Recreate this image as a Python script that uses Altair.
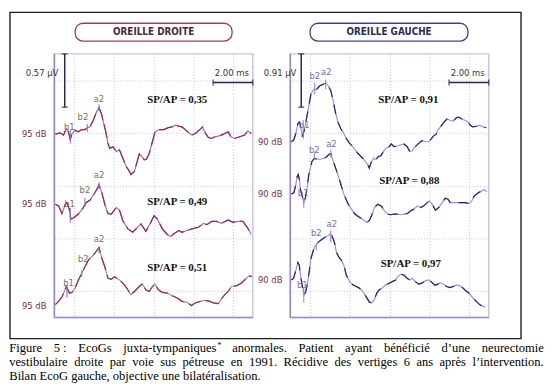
import altair as alt
import pandas as pd

# ---------------- waveform data: time (ms) / amplitude (arbitrary units) ----
L1_t = [0.05,0.30,0.46,0.60,0.71,0.80,0.88,1.04,1.21,1.38,1.54,1.66,1.79,1.96,2.12,2.25,2.37,2.49,2.59,2.70,
        2.79,2.95,3.12,3.28,3.45,3.62,3.78,3.86,4.03,4.15,4.28,4.41,4.53,4.64,4.78,4.94,5.07,5.27,5.52,5.74,
        5.94,6.10,6.30,6.43,6.60,6.77,6.93,7.10,7.30,7.46,7.60,7.76,7.93,8.09,8.26,8.42,8.59,8.76,8.89,9.09,
        9.34,9.59,9.75,9.92]
L1_v = [185.7,187,184.7,191.3,188,180.3,185.7,189.7,188,190.3,190.3,192.3,193,199.7,208,212.3,206.3,196.3,188,176.3,
        171.3,173,168,169.7,161.3,153,148,144.7,148,156.3,165.7,163,159.7,160.3,166.3,178,188,190.3,190.3,192.3,
        193,194.7,193.7,193,190.3,187,184.7,186.3,189.7,193,187,182.3,181.3,183,183.7,184.7,186.3,188,183,181.3,
        183,184.7,189,186.3]
L2_t = [0.05,0.21,0.38,0.55,0.63,0.75,0.83,0.96,1.21,1.46,1.59,1.79,2.04,2.25,2.37,2.54,2.70,2.87,3.12,3.28,
        3.45,3.70,3.95,4.19,4.36,4.61,4.86,5.02,5.19,5.44,5.69,5.86,6.02,6.27,6.43,6.68,6.93,7.26,7.51,7.68,
        7.93,8.17,8.42,8.76,9.00,9.25,9.50,9.72,9.92]
L2_v = [114.7,113,105.3,114.7,116.3,109.7,99.7,100.7,104.7,111.3,116.3,118.7,126.3,134,128,114.7,105.3,104.7,111.3,108.7,
        98,89.7,86.3,91.3,94.7,87.3,96.3,103,99.7,89.7,84,82,84.7,88,86.3,88,89.7,91.3,95.3,94,
        97.3,97.3,95.3,98.7,96.3,97.3,97.3,91.3,84]
L3_t = [0.05,0.21,0.38,0.50,0.60,0.68,0.75,0.88,1.04,1.21,1.38,1.54,1.71,1.96,2.12,2.25,2.37,2.54,2.70,2.87,
        3.03,3.28,3.53,3.70,3.86,4.03,4.28,4.44,4.61,4.78,4.94,5.07,5.24,5.44,5.69,5.94,6.19,6.43,6.68,6.90,
        7.10,7.35,7.60,7.84,8.01,8.26,8.51,8.76,8.92,9.17,9.42,9.67,9.83,9.95]
L3_v = [13,16.3,20.7,26.3,31.3,28,24.7,25.3,29.7,38,44.7,51.3,58,63,67.3,70.7,61.3,51.3,39.7,38.7,
        41.3,38,33,28,23,26.3,31.3,34,28,26.3,31.3,34,28,25.3,24.7,22,19.7,16.3,15.3,12,
        14.7,16.3,17.3,16.3,14.7,14,21.3,26.3,31.3,32,34.7,39.7,42,41.3]

R1_t = [0.05,0.17,0.28,0.38,0.45,0.51,0.61,0.71,0.83,0.95,1.04,1.16,1.33,1.49,1.66,1.78,1.91,2.04,2.16,2.27,
        2.40,2.54,2.65,2.82,2.99,3.15,3.27,3.40,3.53,3.65,3.77,3.90,3.98,4.06,4.20,4.31,4.43,4.56,4.69,4.81,
        4.98,5.09,5.22,5.39,5.56,5.72,5.89,6.02,6.14,6.30,6.47,6.63,6.80,6.97,7.08,7.21,7.35,7.46,7.63,7.80,
        7.91,8.04,8.21,8.37,8.49,8.62,8.79,8.96,9.07,9.20,9.37,9.54,9.70,9.87]
R1_v = [178,179.7,186.3,196.3,198,194.7,183,190.3,203,216.3,226.3,230.7,231.3,234.7,236.3,238,234.7,229.7,219.7,208,
        198,191.3,188,181.3,176.3,173,169.7,166.3,163.7,161.3,158,154.7,151.3,156.3,161.3,159.7,163,163.7,168,171.3,
        173,175.7,173,173.7,174.7,175.7,173,168,169,173,176.3,179,178,178,180.3,183.7,185.7,190.3,194.7,199,
        201.3,199.7,199,202.3,203,201.3,199.7,198,194.7,193,193.7,194.7,193,192.3]
R2_t = [0.05,0.18,0.28,0.35,0.40,0.46,0.51,0.60,0.68,0.76,0.85,0.93,1.01,1.09,1.21,1.34,1.49,1.64,1.79,1.94,
        2.04,2.17,2.34,2.50,2.70,2.92,3.08,3.25,3.50,3.75,3.87,4.00,4.13,4.24,4.41,4.58,4.74,4.91,5.07,5.24,
        5.41,5.57,5.74,5.91,6.07,6.23,6.40,6.57,6.73,6.90,7.01,7.15,7.31,7.48,7.65,7.81,7.95,8.06,8.22,8.47,
        8.81,9.00,9.14,9.27,9.47,9.64,9.77,9.89]
R2_v = [125,126.3,134.7,143,144.7,139.7,129.7,123,116.3,121.3,131.3,144.7,151.3,158,161,160.5,160,161,162,165,
        166,158,148,138,124.7,114.7,109.7,104.7,101.3,98,96.3,98.7,104.7,111.3,114.7,113,108,104.7,104,104.7,
        104.7,104,104.7,105.3,108,109.7,113,111.3,113,116.3,118,114.7,108.7,111.3,116.3,120.7,119.7,116.3,116.3,116.3,
        116.3,115.3,118,123,126.3,128,129.7,127.3]
R3_t = [0.05,0.17,0.28,0.38,0.45,0.50,0.58,0.66,0.71,0.78,0.88,0.95,1.04,1.16,1.28,1.41,1.58,1.74,1.91,2.04,
        2.16,2.24,2.32,2.44,2.57,2.70,2.82,2.99,3.15,3.32,3.48,3.65,3.81,3.98,4.10,4.23,4.36,4.48,4.64,4.81,
        4.98,5.14,5.31,5.42,5.56,5.72,5.89,6.02,6.14,6.30,6.47,6.63,6.80,6.97,7.13,7.25,7.38,7.55,7.71,7.88,
        8.04,8.21,8.38,8.54,8.71,8.84,9.00,9.20,9.37,9.54,9.70,9.83]
R3_v = [38,39.7,48,55.7,53,44.7,34.7,26.3,23,26.3,36.3,46.3,59.7,68,73,76.3,79,81.3,83,84.7,
        79.7,74.7,66.3,61.3,58,53,43,36.3,33,31.3,29.7,26.3,21.3,15.7,14.7,18,24.7,28,29.7,33,
        34.7,36.3,38,41.3,43.7,43,39.7,38,39.7,36.3,33.7,34.7,37,38,35.7,33,33,35.3,33.7,31.3,
        30.3,31.3,33,32,29.7,27,24.7,19.7,16.3,13,11.3,10.3]

# ---------------- peak markers (b1, b2, a2 for each of the three traces) ----------------
PEAK_NAMES = ["b1", "b2", "a2"] * 3
L_LAB_T = [0.75, 1.44, 2.24, 0.76, 1.54, 2.25, 0.71, 1.46, 2.25]
L_LAB_V = [193, 203, 221, 114.7, 129, 144, 35, 59, 79]
L_TICK_T = [0.80, 1.66, 2.25, 0.80, 1.54, 2.25, 0.63, 1.38, 2.25]
L_TICK_V0 = [176, 188, 209, 96, 113, 130, 20, 41, 65]
L_TICK_V1 = [190, 196, 216, 111, 121, 137, 33, 48, 72]
R_LAB_T = [0.70, 1.23, 1.81, 0.65, 1.21, 2.07, 0.60, 1.31, 2.09]
R_LAB_V = [195, 245, 249, 126, 170, 176, 33, 85, 95]
R_TICK_T = [0.65, 1.23, 1.78, 0.68, 1.21, 2.04, 0.68, 1.31, 2.04]
R_TICK_V0 = [181, 226, 231, 111, 160, 162, 15, 68, 76]
R_TICK_V1 = [200, 238, 241, 121, 168, 170, 30, 75, 88]

# ---------------- SP/AP ratios and stimulus levels ----------------
L_SPAP = ["0,35", "0,49", "0,51"]
L_SPAP_T = [6.19, 6.19, 6.19]
L_SPAP_V = [220, 117, 49.7]
R_SPAP = ["0,91", "0,88", "0,97"]
R_SPAP_T = [5.95, 6.0, 6.07]
R_SPAP_V = [220, 138, 54]
L_DB = "95 dB"
L_DB_V = [186, 115, 12]
R_DB = "90 dB"
R_DB_V = [178, 125, 38]
L_UV = "0.57 µV"
R_UV = "0.91 µV"
MS_LABEL = "2.00 ms"

CAPTION_1 = ["Figure", "5 :", "EcoGs", "juxta-tympaniques", "anormales.", "Patient", "ayant",
             "bénéficié", "d’une", "neurectomie"]
CAPTION_2 = ["vestibulaire", "droite", "par", "voie", "sus", "pétreuse", "en", "1991.", "Récidive",
             "des", "vertiges", "6", "ans", "après", "l’intervention."]
CAPTION_3 = "Bilan EcoG gauche, objective une bilatéralisation."

# ---------------- styling ----------------
NARROW = "Liberation Sans Narrow, Arial Narrow, DejaVu Sans Condensed, sans-serif"
SERIF = "Liberation Serif, Times New Roman, serif"
SMALL = 9.5
W, H = 201, 267
XS = alt.Scale(domain=[0, 10], nice=False, zero=False)
YS = alt.Scale(domain=[0, 267], nice=False, zero=False)
GRID_X = list(range(1, 10))
GRID_Y = [round(26.7 * k, 1) for k in range(1, 10)]
dummy = pd.DataFrame({"k": [0]})
BAR_COL = "#2c2650"
DB_COL = "#7e2a48"


def X(f="t"):
    return alt.X(f"{f}:Q", title=None)


def Y(f="v"):
    return alt.Y(f"{f}:Q", title=None)


def panel(traces, base_cols, over_col, dash, lab_t, lab_v, tick_t, tick_v0, tick_v1, lab_col, tick_col,
          spap_t, spap_v, spap_vals, db_v, db_txt, uv_txt, uv_t, bar_t, title, bx0, bx1, box_col, title_col):
    tr = pd.concat([pd.DataFrame({"trace": n, "t": t, "v": v}) for n, t, v in traces], ignore_index=True)
    names = [n for n, _, _ in traces]
    layers = [alt.Chart(tr).mark_line(strokeWidth=1.2).encode(
        x=alt.X("t:Q", scale=XS, axis=alt.Axis(values=GRID_X), title=None),
        y=alt.Y("v:Q", scale=YS, axis=alt.Axis(values=GRID_Y), title=None),
        color=alt.Color("trace:N", scale=alt.Scale(domain=names, range=base_cols), legend=None),
    )]
    layers.append(alt.Chart(dummy).mark_rule(color="#9585cc", strokeWidth=1.5).encode(
        x=alt.value(0), y=alt.value(0), y2=alt.value(H)))
    layers.append(alt.Chart(dummy).mark_rule(color="#9a8cd0", strokeWidth=1.5).encode(
        x=alt.value(0), x2=alt.value(W), y=alt.value(H)))
    layers.append(alt.Chart(tr).mark_line(strokeWidth=1.2, color=over_col, strokeDash=dash).encode(
        x=X(), y=Y(), detail="trace:N"))
    ticks = pd.DataFrame({"t": tick_t, "v": tick_v0, "v2": tick_v1})
    layers.append(alt.Chart(ticks).mark_rule(color=tick_col, strokeWidth=1).encode(x=X(), y=Y(), y2="v2:Q"))
    labs = pd.DataFrame({"t": lab_t, "v": lab_v, "lab": PEAK_NAMES})
    layers.append(alt.Chart(labs).mark_text(font=NARROW, fontSize=SMALL, color=lab_col).encode(
        x=X(), y=Y(), text="lab:N"))
    sp = pd.DataFrame({"t": spap_t, "v": spap_v, "txt": ["SP/AP =  " + s for s in spap_vals]})
    layers.append(alt.Chart(sp).mark_text(font=SERIF, fontSize=11, fontWeight="bold", color="#111111").encode(
        x=X(), y=Y(), text="txt:N"))
    db = pd.DataFrame({"v": db_v, "txt": [db_txt] * len(db_v)})
    layers.append(alt.Chart(db).mark_text(font=NARROW, fontSize=SMALL, color=DB_COL, align="right").encode(
        x=alt.value(-8), y=Y(), text="txt:N"))
    # amplitude scale bar
    vb = pd.DataFrame({"t": [bar_t], "v": [213], "v2": [267]})
    layers.append(alt.Chart(vb).mark_rule(color=BAR_COL, strokeWidth=1.5).encode(x=X(), y=Y(), y2="v2:Q"))
    vc = pd.DataFrame({"t": [bar_t, bar_t], "v": [213, 267]})
    layers.append(alt.Chart(vc).mark_tick(orient="horizontal", size=6, thickness=1.5, color=BAR_COL).encode(
        x=X(), y=Y()))
    # time scale bar (2 ms)
    hb = pd.DataFrame({"t": [8.0], "t2": [10.0], "v": [238]})
    layers.append(alt.Chart(hb).mark_rule(color=BAR_COL, strokeWidth=1.5).encode(x=X(), x2="t2:Q", y=Y()))
    hc = pd.DataFrame({"t": [8.0, 10.0], "v": [238, 238]})
    layers.append(alt.Chart(hc).mark_tick(orient="vertical", size=6, thickness=1.5, color=BAR_COL).encode(
        x=X(), y=Y()))
    su = pd.DataFrame({"t": [uv_t], "v": [248], "txt": [uv_txt]})
    layers.append(alt.Chart(su).mark_text(font=NARROW, fontSize=SMALL, color="#333333",
                                          align="right").encode(x=X(), y=Y(), text="txt:N"))
    sm = pd.DataFrame({"t": [8.94], "v": [247.5], "txt": [MS_LABEL]})
    layers.append(alt.Chart(sm).mark_text(font=NARROW, fontSize=SMALL, color="#333333").encode(
        x=X(), y=Y(), text="txt:N"))
    # title box
    layers.append(alt.Chart(dummy).mark_rect(fill="white", stroke=box_col, strokeWidth=1.3, cornerRadius=8).encode(
        x=alt.value(bx0), x2=alt.value(bx1), y=alt.value(-31), y2=alt.value(-13)))
    layers.append(alt.Chart(dummy).mark_text(font=NARROW, fontSize=10, fontWeight="bold", color=title_col).encode(
        x=alt.value((bx0 + bx1) / 2), y=alt.value(-22), text=alt.value(title)))
    return layers


left_layers = panel(
    [("L1", L1_t, L1_v), ("L2", L2_t, L2_v), ("L3", L3_t, L3_v)],
    ["#8f6fd0", "#8f6fd0", "#86a486"], "#a02848", [14, 5],
    L_LAB_T, L_LAB_V, L_TICK_T, L_TICK_V0, L_TICK_V1, "#6c7862", "#8a6ac8",
    L_SPAP_T, L_SPAP_V, L_SPAP, L_DB_V, L_DB, L_UV, 0.2, 0.52,
    "OREILLE DROITE", 21, 180, "#9b4055", "#4a2a38")
right_layers = panel(
    [("R1", R1_t, R1_v), ("R2", R2_t, R2_v), ("R3", R3_t, R3_v)],
    ["#a08ee0", "#a08ee0", "#a08ee0"], "#2a2560", [10, 8],
    R_LAB_T, R_LAB_V, R_TICK_T, R_TICK_V0, R_TICK_V1, "#8468b8", "#9a7ad0",
    R_SPAP_T, R_SPAP_V, R_SPAP, R_DB_V, R_DB, R_UV, 0.3, 0.55,
    "OREILLE GAUCHE", 20, 180, "#4c3c90", "#2c2c58")

# ---------------- outer frame and caption (positioned relative to left panel) ----------------
OX, OY = 54, 51
left_layers.append(alt.Chart(dummy).mark_rect(fill="white", fillOpacity=0, stroke="#1e1e1e", strokeWidth=1.4).encode(
    x=alt.value(9 - OX), x2=alt.value(526.7 - OX), y=alt.value(9 - OY), y2=alt.value(339.5 - OY)))

TW = {' ': 250, '*': 500, ',': 250, '-': 333, '.': 250, ':': 278, '’': 333, '0': 500, '1': 500, '5': 500,
      '6': 500, '9': 500, 'B': 667, 'E': 611, 'F': 556, 'G': 722, 'P': 556, 'R': 667, 'a': 444, 'b': 500,
      'c': 444, 'd': 500, 'e': 444, 'f': 333, 'g': 500, 'h': 500, 'i': 278, 'j': 278, 'l': 278, 'm': 778,
      'n': 500, 'o': 500, 'p': 500, 'q': 500, 'r': 333, 's': 389, 't': 278, 'u': 500, 'v': 500, 'x': 500,
      'y': 500, 'é': 444, 'è': 444}
CS = 12.7
CL, CR = 8.3, 549.7


def tw(s):
    return sum(TW.get(c, 500) for c in s) * CS / 1000.0


def add_word(txt, px, py, align="left", size=CS):
    left_layers.append(alt.Chart(dummy).mark_text(font=SERIF, fontSize=size, color="#000000", align=align,
                                                  baseline="alphabetic").encode(
        x=alt.value(px - OX), y=alt.value(py - OY), text=alt.value(txt)))


def justified(words, py, extra):
    widths = [tw(w) + extra.get(i, 0) for i, w in enumerate(words)]
    gap = (CR - CL - sum(widths)) / (len(words) - 1)
    x = CL
    for i, w in enumerate(words):
        if i == len(words) - 1:
            add_word(w, CR, py, align="right")
        else:
            add_word(w, x, py)
            if i in extra:
                add_word("*", x + tw(w) + 0.8, py - 4, size=8)
        x += widths[i] + gap


justified(CAPTION_1, 353, {3: 4})
justified(CAPTION_2, 367, {})
add_word(CAPTION_3, CL, 381)

left = alt.layer(*left_layers).properties(width=W, height=H)
right = alt.layer(*right_layers).properties(width=W, height=H)

chart = alt.hconcat(left, right, spacing=38, bounds="flush").resolve_scale(color="independent").properties(
    padding=0, background="white"
).configure_view(stroke="#c9c5dd", strokeWidth=1.5).configure_axis(
    labels=False, ticks=False, domain=False, grid=True, gridColor="#c4c0da", gridDash=[1, 2], gridWidth=1
)

chart.save("out.html", embed_options={"renderer": "svg", "actions": False})
